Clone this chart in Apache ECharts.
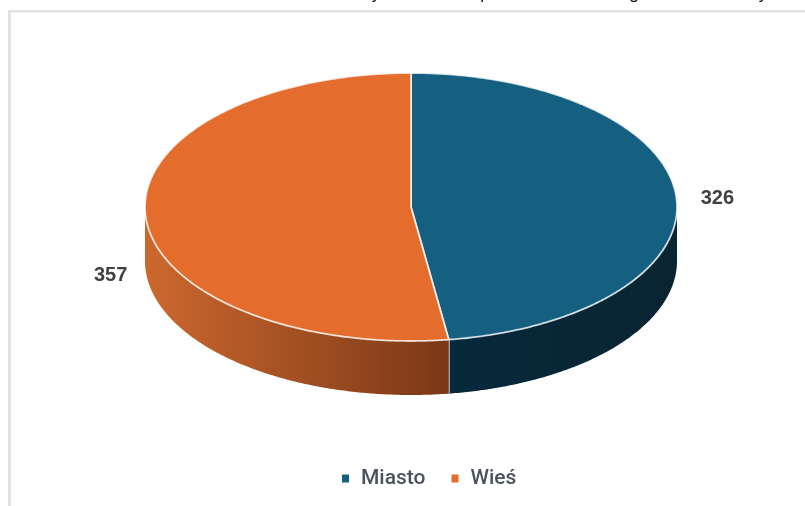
<!DOCTYPE html>
<html>
<head>
<meta charset="utf-8">
<style>html,body{margin:0;padding:0;background:#fff}#chart{width:805px;height:506px}</style>
<script src="https://cdn.jsdelivr.net/npm/echarts@6/dist/echarts.min.js"></script>
</head>
<body>
<div id="chart"></div>
<script>
// Liczba miejsc wg typu obszaru
const categories = ['Miasto', 'Wieś'];
const values = [326, 357];
const topColors = ['#155f81', '#e46d2d'];
const wallStops = [['#06293b', '#0a2431'], ['#cc682e', '#7a3817']];

const CX = 411, CY = 207, RX = 266, RY = 134, DEPTH = 54;
const total = values.reduce((a, b) => a + b, 0);

const point = (deg, dy) => {
  const r = deg * Math.PI / 180;
  return [CX + RX * Math.sin(r), CY - RY * Math.cos(r) + (dy || 0)];
};
const arc = (from, to, dy) => {
  const pts = [];
  const n = Math.max(2, Math.ceil(Math.abs(to - from) * 2));
  for (let i = 0; i <= n; i++) pts.push(point(from + (to - from) * i / n, dy));
  return pts;
};

function renderSlice(params, api) {
  const i = params.seriesIndex;
  const before = values.slice(0, i).reduce((a, b) => a + b, 0);
  const a0 = before / total * 360;
  const a1 = a0 + api.value(0) / total * 360;
  const children = [];

  // visible front wall of the disc: the part of the rim between 90° and 270°
  const w0 = Math.max(a0, 90), w1 = Math.min(a1, 270);
  if (w1 > w0) {
    const xs = [point(w0)[0], point(w1)[0]];
    const left = Math.min(xs[0], xs[1]), right = Math.max(xs[0], xs[1]);
    children.push({
      type: 'polygon',
      shape: { points: arc(w0, w1, 0).concat(arc(w1, w0, DEPTH)) },
      style: {
        fill: new echarts.graphic.LinearGradient(left, 0, right, 0, [
          { offset: 0, color: wallStops[i][0] },
          { offset: 1, color: wallStops[i][1] }
        ], true)
      }
    });
    // light seam where the two walls meet
    if (a1 < 270 && a1 > 90) {
      const p = point(a1);
      children.push({
        type: 'line',
        shape: { x1: p[0], y1: p[1], x2: p[0], y2: p[1] + DEPTH },
        style: { stroke: 'rgba(255,255,255,0.8)', lineWidth: 1.8 }
      });
    }
  }

  // top face of the slice
  children.push({
    type: 'polygon',
    shape: { points: [[CX, CY]].concat(arc(a0, a1, 0)) },
    style: { fill: topColors[i], stroke: 'rgba(255,255,255,0.78)', lineWidth: 1.8, lineJoin: 'round' }
  });

  // value label just outside the middle of the slice's rim
  const mid = (a0 + a1) / 2;
  const m = point(mid);
  const onRight = mid < 180;
  children.push({
    type: 'text',
    style: {
      x: m[0] + (onRight ? 41 : -35),
      y: m[1] + (onRight ? 1 : DEPTH + 5),
      text: String(api.value(0)),
      fill: '#404040',
      font: 'bold 20px "Liberation Sans", Arial, sans-serif',
      align: 'center',
      verticalAlign: 'middle'
    }
  });
  return { type: 'group', children };
}

const chart = echarts.init(document.getElementById('chart'), null, { renderer: 'canvas' });
chart.setOption({
  animation: false,
  backgroundColor: '#ffffff',
  legend: {
    data: categories,
    left: 337,
    top: 463,
    icon: 'rect',
    itemWidth: 7,
    itemHeight: 8,
    itemGap: 26,
    selectedMode: false,
    textStyle: { color: '#4a5160', fontFamily: 'Roboto', fontWeight: 500, fontSize: 21, padding: [0, 0, 0, 7] }
  },
  graphic: [
    // chart frame
    { type: 'rect', shape: { x: 8, y: 10, width: 797, height: 2.5 }, style: { fill: '#e2e2e2' } },
    { type: 'rect', shape: { x: 8, y: 10, width: 3, height: 496 }, style: { fill: '#e2e2e2' } },
    // tail ends of the heading line running off the top edge
    ...[['y', 376], ['p', 485], ['g', 634], ['y', 763]].map(([t, x]) => ({
      type: 'text',
      style: { x, y: 3, text: t, fill: '#111', font: '17px "Liberation Sans", Arial, sans-serif',
        align: 'center', verticalAlign: 'bottom' }
    }))
  ],
  series: categories.map((name, i) => ({
    type: 'custom',
    name,
    coordinateSystem: 'none',
    itemStyle: { color: topColors[i] },
    renderItem: renderSlice,
    data: [[values[i]]]
  }))
});
</script>
</body>
</html>
